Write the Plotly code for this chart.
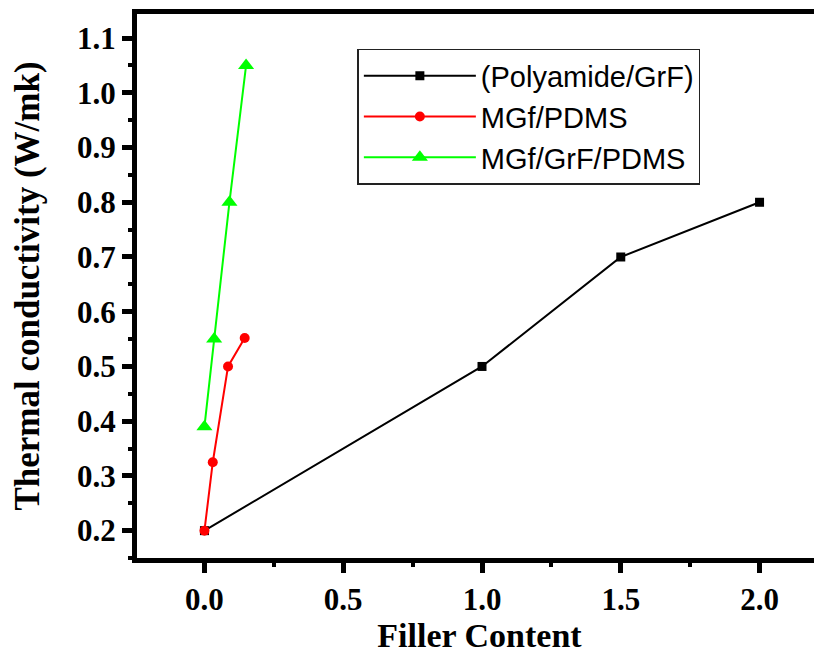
import plotly.graph_objects as go

# Data
pa_x = [0.0, 1.0, 1.5, 2.0]
pa_y = [0.2, 0.5, 0.7, 0.8]
mgf_x = [0.0, 0.03, 0.085, 0.145]
mgf_y = [0.2, 0.325, 0.5, 0.552]
mgfgrf_x = [0.0, 0.035, 0.09, 0.15]
mgfgrf_y = [0.39, 0.55, 0.8, 1.05]

names = ["(Polyamide/GrF)", "MGf/PDMS", "MGf/GrF/PDMS"]
x_ticks = [0.0, 0.5, 1.0, 1.5, 2.0]
x_ticklabels = ["0.0", "0.5", "1.0", "1.5", "2.0"]
y_ticks = [0.2, 0.3, 0.4, 0.5, 0.6, 0.7, 0.8, 0.9, 1.0, 1.1]
y_ticklabels = ["0.2", "0.3", "0.4", "0.5", "0.6", "0.7", "0.8", "0.9", "1.0", "1.1"]

fig = go.Figure()
fig.add_trace(go.Scatter(x=pa_x, y=pa_y, name=names[0], mode="lines+markers",
                         line=dict(color="black", width=2),
                         marker=dict(symbol="square", size=9, color="black")))
fig.add_trace(go.Scatter(x=mgf_x, y=mgf_y, name=names[1], mode="lines+markers",
                         line=dict(color="#ff0000", width=2),
                         marker=dict(symbol="circle", size=10, color="#ff0000")))
fig.add_trace(go.Scatter(x=mgfgrf_x, y=mgfgrf_y, name=names[2], mode="lines+markers",
                         line=dict(color="#00ff00", width=2),
                         marker=dict(symbol="triangle-up", size=14, color="#00ff00")))

serif = "Liberation Serif"
fig.update_layout(
    width=822, height=653,
    margin=dict(l=128.5, r=8, t=6, b=102.5, autoexpand=False),
    paper_bgcolor="white", plot_bgcolor="white",
    showlegend=True,
    legend=dict(
        x=0.3217, y=0.9357, xanchor="left", yanchor="top",
        bgcolor="white", bordercolor="#222222", borderwidth=1.5,
        font=dict(family="Liberation Sans", size=29, color="black"),
        itemwidth=112,
        tracegroupgap=0,
    ),
    xaxis=dict(
        range=[-0.243, 2.225], automargin=False,
        tickmode="array", tickvals=x_ticks, ticktext=x_ticklabels,
        ticks="outside", ticklen=10, tickwidth=5, tickcolor="black",
        minor=dict(dtick=0.25, tick0=0, ticks="outside", ticklen=4, tickwidth=4, tickcolor="black"),
        showline=True, linewidth=5, linecolor="black", mirror=True,
        showgrid=False, zeroline=False,
        tickfont=dict(family=serif, size=31, color="black", weight="bold"),
        title=dict(text="<b>Filler Content</b>", font=dict(family=serif, size=34, color="black"), standoff=8),
    ),
    yaxis=dict(
        range=[0.15, 1.144], automargin=False,
        tickmode="array", tickvals=y_ticks, ticktext=y_ticklabels,
        ticks="outside", ticklen=10, tickwidth=5, tickcolor="black",
        minor=dict(dtick=0.05, tick0=0.0, ticks="outside", ticklen=4, tickwidth=4, tickcolor="black"),
        showline=True, linewidth=5, linecolor="black", mirror=False,
        showgrid=False, zeroline=False,
        tickfont=dict(family=serif, size=31, color="black", weight="bold"),
        title=dict(text="<b>Thermal conductivity (W/mk)</b>", font=dict(family=serif, size=35, color="black"), standoff=30),
    ),
)

fig.write_html("out.html")
